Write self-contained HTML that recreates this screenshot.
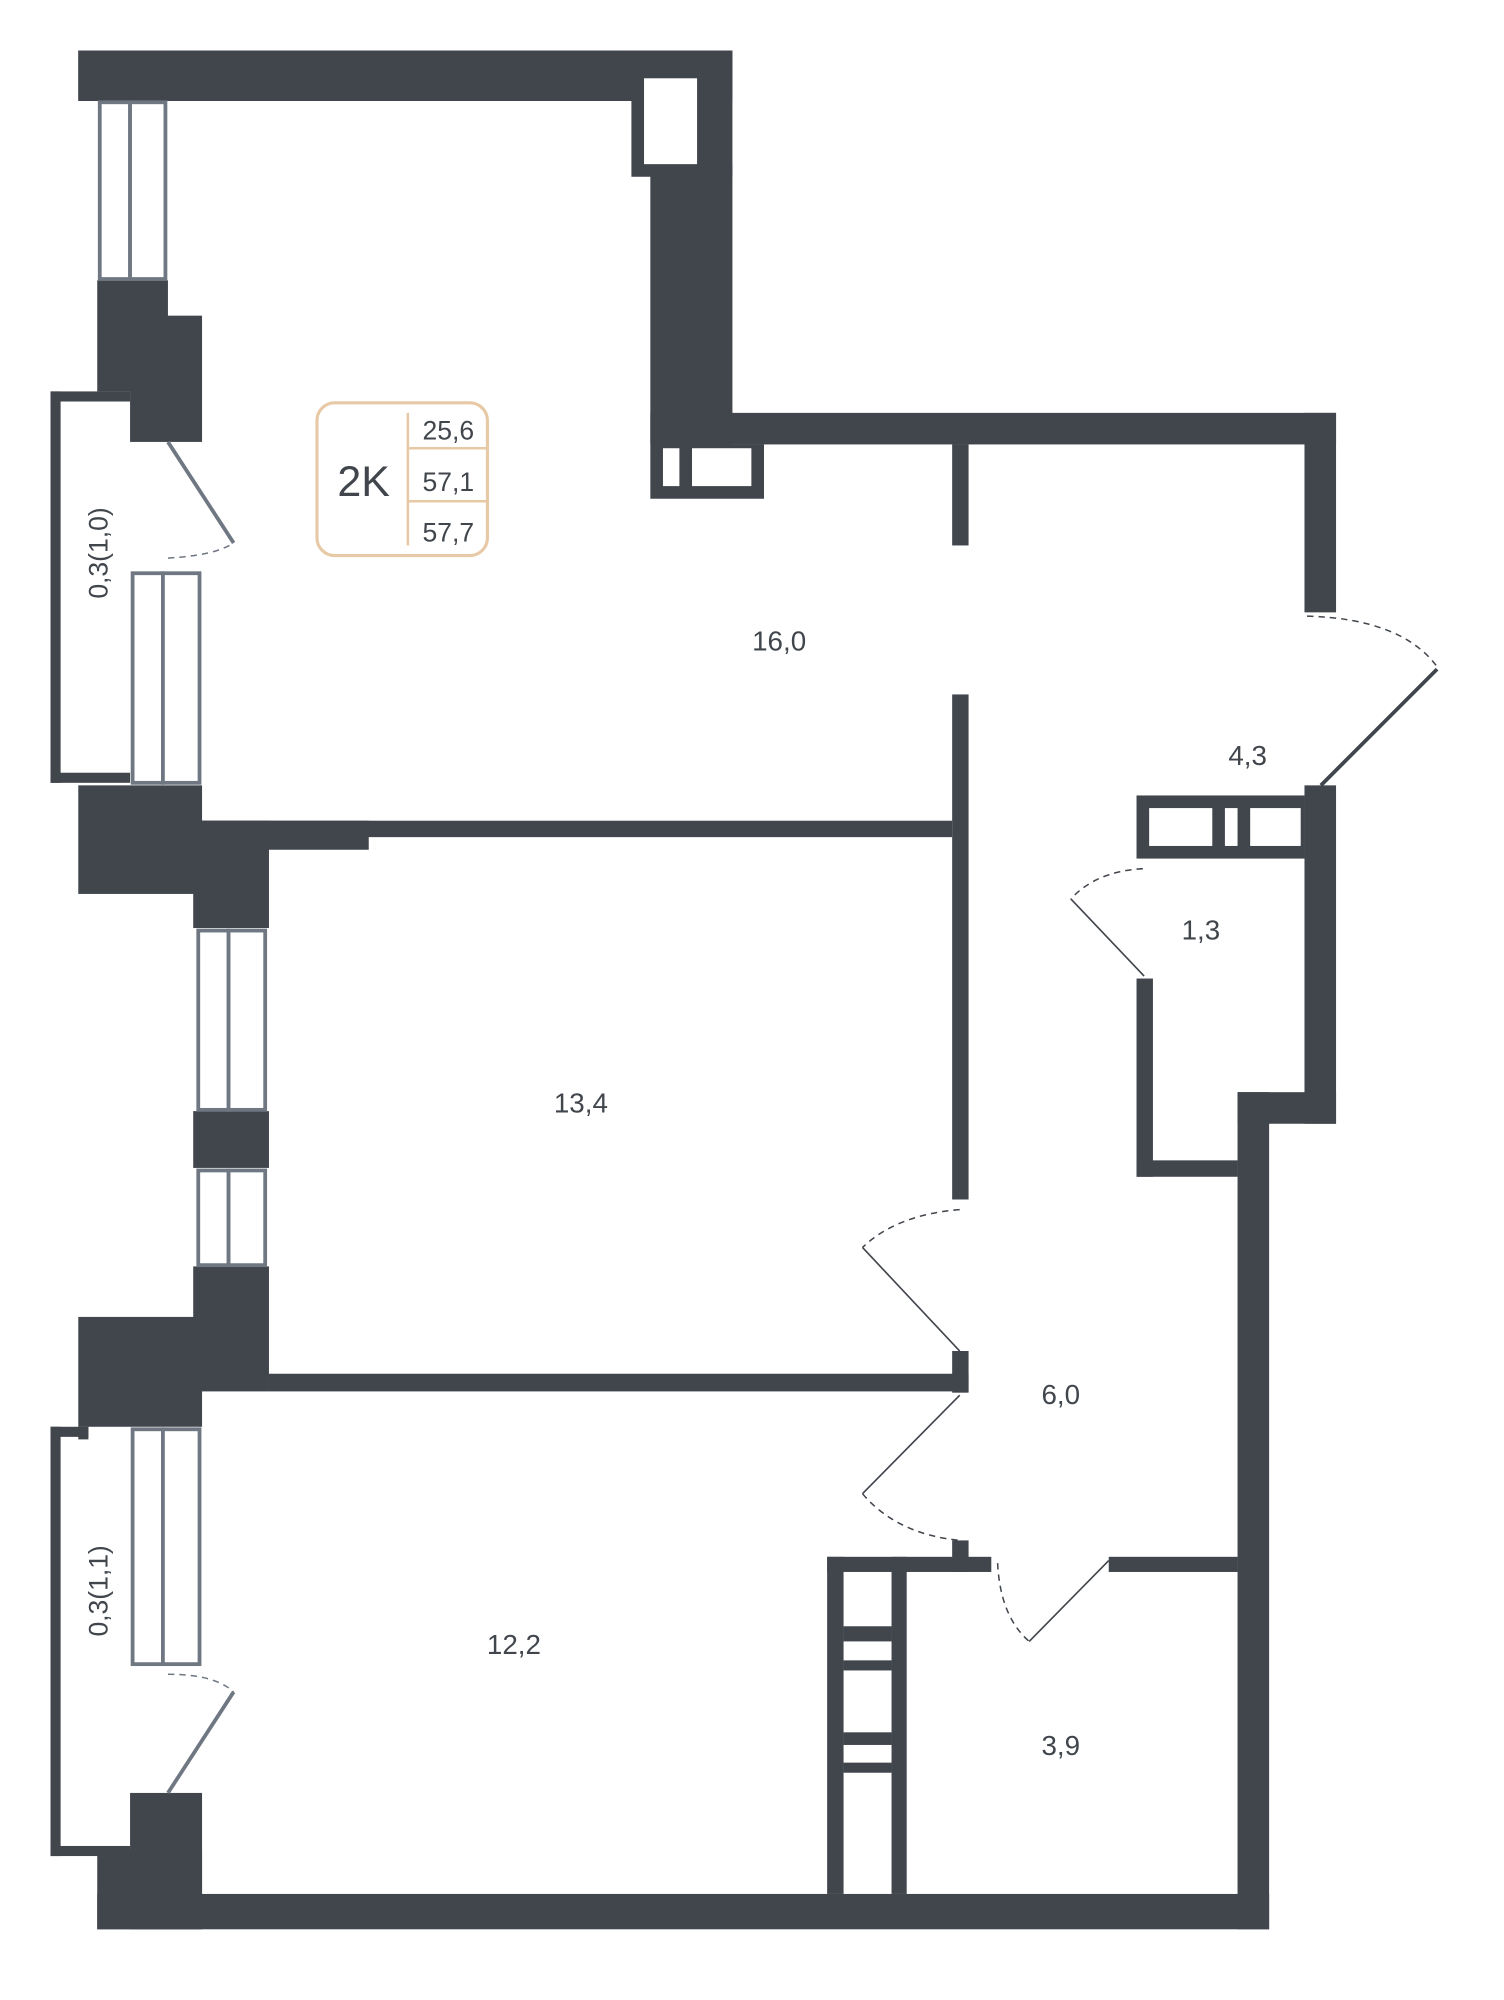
<!DOCTYPE html>
<html><head><meta charset="utf-8"><style>html,body{margin:0;padding:0;background:#fff}svg{display:block}</style></head>
<body>
<svg width="1504" height="2000" viewBox="0 0 1191 1584" preserveAspectRatio="none" xmlns="http://www.w3.org/2000/svg">
<g fill="#41464d">
<!-- top -->
<rect x="62" y="40" width="518" height="40"/>
<rect x="500" y="40" width="80" height="100"/>
<rect x="515" y="130" width="65" height="222"/>
<rect x="515" y="327" width="543" height="25"/>
<rect x="1033" y="327" width="25" height="158"/>
<rect x="515" y="352" width="90" height="43"/>
<!-- partition -->
<rect x="754" y="352" width="13" height="80"/>
<rect x="754" y="550" width="13" height="400"/>
<!-- right -->
<rect x="1033" y="622" width="25" height="268"/>
<rect x="980" y="865" width="78" height="25"/>
<rect x="980" y="865" width="25" height="663"/>
<!-- bath 1.3 -->
<rect x="900" y="630" width="133" height="50"/>
<rect x="900" y="775" width="13" height="157"/>
<rect x="900" y="919" width="80" height="13"/>
<!-- walls between rooms -->
<rect x="160" y="650" width="594" height="13"/>
<rect x="160" y="650" width="132" height="23"/>
<rect x="213" y="1088" width="554" height="14"/>
<rect x="754" y="1070" width="13" height="33"/>
<!-- left column -->
<rect x="62" y="40" width="71" height="40"/>
<rect x="77" y="222" width="56" height="88"/>
<rect x="103" y="250" width="57" height="100"/>
<rect x="62" y="622" width="98" height="86"/>
<rect x="153" y="650" width="60" height="85"/>
<rect x="153" y="880" width="60" height="45"/>
<rect x="153" y="1003" width="60" height="99"/>
<rect x="62" y="1043" width="98" height="87"/>
<rect x="103" y="1420" width="57" height="108"/>
<rect x="77" y="1465" width="83" height="63"/>
<rect x="77" y="1500" width="928" height="28"/>
<!-- balcony outlines -->
<rect x="40" y="310" width="8" height="310"/>
<rect x="40" y="310" width="63" height="8"/>
<rect x="40" y="612" width="63" height="8"/>
<rect x="40" y="1130" width="8" height="340"/>
<rect x="40" y="1130" width="30" height="8"/>
<rect x="62" y="1130" width="8" height="10"/>
<rect x="40" y="1462" width="63" height="8"/>
<!-- bath 3.9 -->
<rect x="655" y="1233" width="130" height="12"/>
<rect x="754" y="1220" width="13" height="25"/>
<rect x="878" y="1233" width="102" height="12"/>
<rect x="655" y="1233" width="13" height="267"/>
<rect x="706" y="1233" width="12" height="267"/>
<rect x="668" y="1288" width="38" height="12"/>
<rect x="668" y="1315" width="38" height="8"/>
<rect x="668" y="1372" width="38" height="10"/>
<rect x="668" y="1396" width="38" height="8"/>
</g>
<g fill="#fff">
<rect x="510" y="62" width="42" height="68"/>
<rect x="525" y="355" width="13" height="30"/>
<rect x="548" y="355" width="47" height="30"/>
<rect x="910" y="640" width="50" height="30"/>
<rect x="970" y="640" width="10" height="30"/>
<rect x="990" y="640" width="40" height="30"/>
</g>
<!-- windows -->
<g fill="#fff" stroke="#6f7782" stroke-width="3">
<rect x="79" y="81" width="24" height="140"/><rect x="103" y="81" width="28" height="140"/>
<rect x="105" y="454" width="24" height="166"/><rect x="129" y="454" width="29" height="166"/>
<rect x="157" y="737" width="24" height="142"/><rect x="181" y="737" width="29" height="142"/>
<rect x="157" y="927" width="24" height="75"/><rect x="181" y="927" width="29" height="75"/>
<rect x="105" y="1132" width="24" height="186"/><rect x="129" y="1132" width="29" height="186"/>
</g>
<g fill="none" stroke="#6f7782" stroke-width="3">
<line x1="133" y1="350" x2="185" y2="430"/>
<line x1="185" y1="1340" x2="133" y2="1420"/>
</g>
<g fill="none" stroke="#41464d" stroke-width="1.3">
<line x1="1138" y1="530" x2="1046" y2="622" stroke-width="3"/>
<line x1="848" y1="712" x2="906" y2="773"/>
<line x1="683" y1="988" x2="760" y2="1070"/>
<line x1="760" y1="1105" x2="683" y2="1183"/>
<line x1="815" y1="1300" x2="878" y2="1236"/>
</g>
<g fill="none" stroke="#41464d" stroke-width="1.2" stroke-dasharray="5,4">
<path d="M1035 488 Q1110 490 1138 528"/>
<path d="M905 688 Q868 690 848 712"/>
<path d="M760 958 Q710 962 683 988"/>
<path d="M683 1183 Q710 1215 760 1220"/>
<path d="M790 1238 Q792 1280 815 1300"/>
<path d="M133 442 Q170 440 185 430" stroke="#6f7782"/>
<path d="M133 1326 Q170 1326 185 1340" stroke="#6f7782"/>
</g>
<!-- badge -->
<rect x="251" y="319" width="135" height="121" rx="14" fill="none" stroke="#e8c9a6" stroke-width="2.5"/>
<line x1="323" y1="327" x2="323" y2="432" stroke="#e8c9a6" stroke-width="2"/>
<line x1="323" y1="355" x2="386" y2="355" stroke="#e8c9a6" stroke-width="2"/>
<line x1="323" y1="397" x2="386" y2="397" stroke="#e8c9a6" stroke-width="2"/>
<g font-family="Liberation Sans, sans-serif" fill="#41464d" text-anchor="middle">
<text x="288" y="393" font-size="34">2K</text>
<text x="355" y="348" font-size="21">25,6</text>
<text x="355" y="389" font-size="21">57,1</text>
<text x="355" y="429" font-size="21">57,7</text>
<g font-size="22">
<text x="617" y="515">16,0</text>
<text x="988" y="606">4,3</text>
<text x="951" y="744">1,3</text>
<text x="460" y="881">13,4</text>
<text x="840" y="1112">6,0</text>
<text x="407" y="1310">12,2</text>
<text x="840" y="1390">3,9</text>
</g>
<text font-size="21" transform="translate(85,438) rotate(-90)">0,3(1,0)</text>
<text font-size="21" transform="translate(85,1260) rotate(-90)">0,3(1,1)</text>
</g>
</svg>
</body></html>
